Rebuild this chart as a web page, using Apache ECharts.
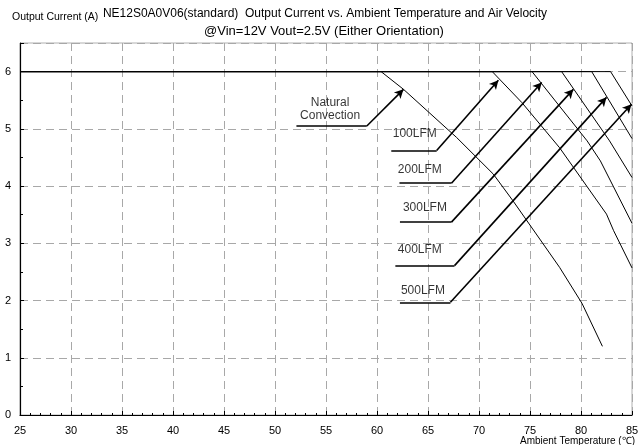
<!DOCTYPE html>
<html>
<head>
<meta charset="utf-8">
<script src="https://cdn.jsdelivr.net/npm/echarts@6/dist/echarts.min.js"></script>
<style>html,body{margin:0;padding:0;background:#fff}#c{width:643px;height:445px}</style>
</head>
<body>
<div id="c"></div>
<script>
// ---- data ----
const titleLine1 = "NE12S0A0V06(standard)  Output Current vs. Ambient Temperature and Air Velocity";
const titleLine2 = "@Vin=12V Vout=2.5V (Either Orientation)";
const yAxisName = "Output Current (A)";
const xAxisName = "Ambient Temperature (\u2103)";

const naturalT = [25, 60.4, 62.6, 67.8, 71.4, 73.3, 77.9, 80.1, 82.1];
const naturalI = [6, 6, 5.69, 4.85, 4.21, 3.75, 2.58, 1.95, 1.2];
const lfm100T = [25, 71.3, 74.2, 77.9, 82.5, 83.2, 85];
const lfm100I = [6, 6, 5.46, 4.67, 3.51, 3.22, 2.57];
const lfm200T = [25, 75.2, 80.6, 81.9, 85];
const lfm200I = [6, 6, 4.79, 4.44, 3.35];
const lfm300T = [25, 78.1, 82.8, 85];
const lfm300I = [6, 6, 4.79, 4.15];
const lfm400T = [25, 81.05, 85];
const lfm400I = [6, 6, 4.83];
const lfm500T = [25, 82.9, 85];
const lfm500I = [6, 6, 5.4];

const labelNames = ["Natural\nConvection", "100LFM", "200LFM", "300LFM", "400LFM", "500LFM"];
const labelT = [55.4, 63.7, 64.2, 64.7, 64.2, 64.5];
const labelI = [5.35, 4.91, 4.29, 3.62, 2.89, 2.18];
// annotation leader lines: start of underline, end of underline, arrow tip
const leadStartT = [52.1, 61.4, 62.2, 62.25, 61.8, 62.25];
const leadBendT = [59.0, 65.85, 67.3, 67.3, 67.6, 67.2];
const leadI = [5.05, 4.62, 4.05, 3.37, 2.61, 1.97];
const tipT = [62.6, 71.9, 76.15, 79.25, 82.5, 84.95];
const tipI = [5.69, 5.85, 5.81, 5.69, 5.55, 5.43];

const xTicks = {min: 25, max: 85, interval: 5};
const yTicks = {min: 0, max: 6.5, interval: 1};

// ---- chart ----
const zip = (a, b) => a.map((v, i) => [v, b[i]]);
const curves = [[naturalT, naturalI], [lfm100T, lfm100I], [lfm200T, lfm200I],
                [lfm300T, lfm300I], [lfm400T, lfm400I], [lfm500T, lfm500I]];
const font = "'Liberation Sans', Arial, sans-serif";

const series = curves.map(c => ({
  type: 'line', data: zip(c[0], c[1]), showSymbol: false, symbol: 'none',
  smooth: false,
  lineStyle: {color: '#000', width: 1}, silent: true, z: 3
}));

const mlData = [];
for (let i = 0; i < leadI.length; i++) {
  mlData.push([{coord: [leadStartT[i], leadI[i]], symbol: 'none'},
               {coord: [leadBendT[i], leadI[i]], symbol: 'none'}]);
  mlData.push([{coord: [leadBendT[i], leadI[i]], symbol: 'none'},
               {coord: [tipT[i], tipI[i]], symbol: 'arrow', symbolSize: [7, 9]}]);
}
series.push({
  type: 'line', data: [], silent: true, z: 4,
  markLine: {
    silent: true, animation: false, symbol: ['none', 'none'],
    lineStyle: {color: '#000', width: 1.6, type: 'solid'},
    label: {show: false}, emphasis: {disabled: true},
    data: mlData
  }
});
series.push({
  type: 'scatter', symbolSize: 0, silent: true, z: 5,
  data: labelNames.map((n, i) => ({value: [labelT[i], labelI[i]], name: n})),
  label: {show: true, position: 'inside', formatter: p => p.name, color: '#000',
          fontSize: 12, fontFamily: font, lineHeight: 13}
});

const chart = echarts.init(document.getElementById('c'), null, {renderer: 'canvas'});
chart.setOption({
  animation: false,
  backgroundColor: '#fff',
  title: [
    {text: titleLine1, left: 320, top: 3, textAlign: 'center',
     textStyle: {fontSize: 12, fontWeight: 'normal', color: '#000', fontFamily: font}},
    {text: titleLine2, left: 319, top: 20, textAlign: 'center',
     textStyle: {fontSize: 13, fontWeight: 'normal', color: '#000', fontFamily: font}},
    {text: yAxisName, left: 7, top: 7,
     textStyle: {fontSize: 10.5, fontWeight: 'normal', color: '#000', fontFamily: font}},
    {text: xAxisName, right: 3, top: 431,
     textStyle: {fontSize: 10, fontWeight: 'normal', color: '#000', fontFamily: font}}
  ],
  grid: {left: 20, right: 11, top: 43, bottom: 30, show: true, borderColor: '#b0b0b0', borderWidth: 1},
  xAxis: {
    type: 'value', min: xTicks.min, max: xTicks.max, interval: xTicks.interval,
    axisLine: {show: true, lineStyle: {color: '#000', width: 1.2}},
    axisTick: {show: true, inside: true, length: 4, lineStyle: {color: '#000'}},
    minorTick: {show: true, splitNumber: 5, length: 2, lineStyle: {color: '#000'}},
    axisLabel: {color: '#000', fontSize: 11, fontFamily: font, margin: 10},
    splitLine: {show: true, lineStyle: {color: '#a8a8a8', type: [8, 5], width: 1}}
  },
  yAxis: {
    type: 'value', min: yTicks.min, max: yTicks.max, interval: yTicks.interval,
    axisLine: {show: true, lineStyle: {color: '#000', width: 1.2}},
    axisTick: {show: true, inside: true, length: 4, lineStyle: {color: '#000'}},
    minorTick: {show: true, splitNumber: 2, length: 3, lineStyle: {color: '#000'}},
    axisLabel: {color: '#000', fontSize: 11, fontFamily: font, margin: 9, showMaxLabel: false},
    splitLine: {show: true, lineStyle: {color: '#a8a8a8', type: [8, 5], width: 1}}
  },
  series: series
});
</script>
</body>
</html>
